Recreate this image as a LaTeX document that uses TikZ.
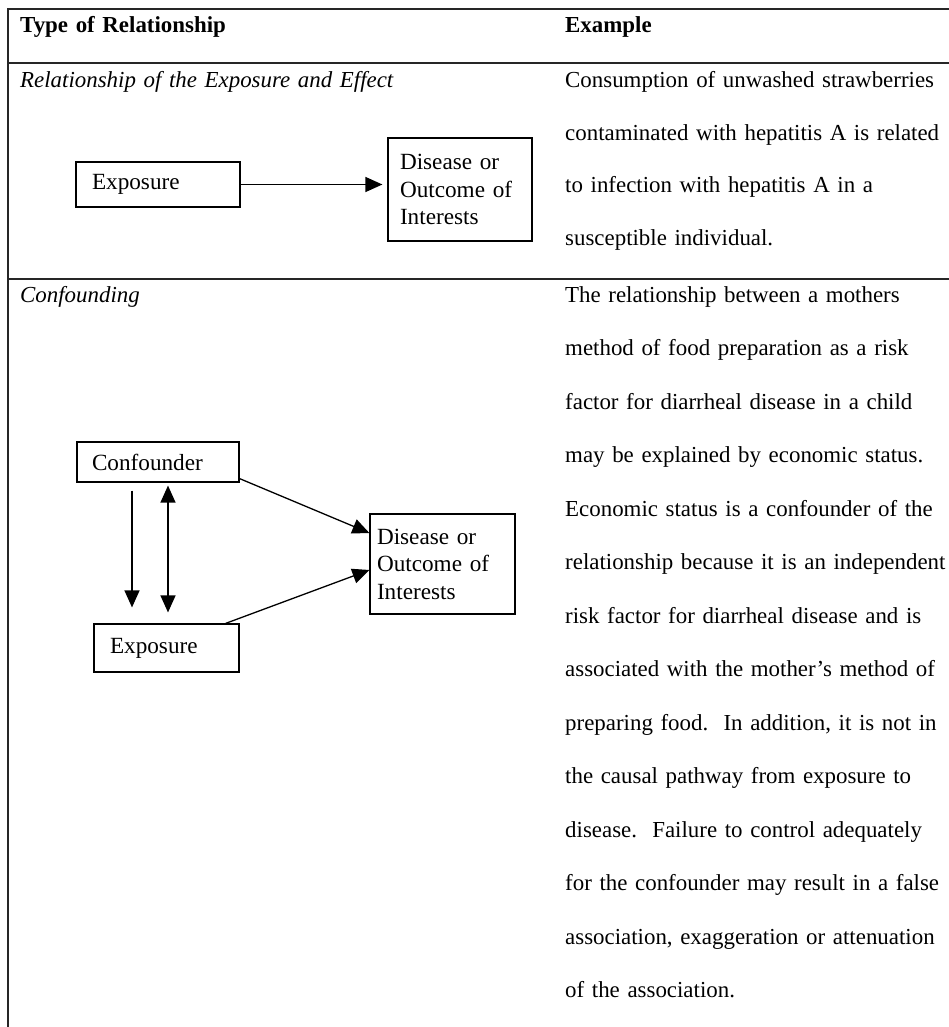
\documentclass[tikz,border=0pt]{standalone}
\usepackage{fontspec}
\setmainfont{Liberation Serif}
\usetikzlibrary{arrows.meta}

\tikzset{
  cell/.style={anchor=base west, inner sep=0pt, align=left, text width=400pt,
    font=\fontsize{22.9}{53.5}\selectfont},
  head/.style={cell, font=\fontsize{22.9}{53.5}\selectfont\bfseries},
  kind/.style={cell, font=\fontsize{22.9}{53.5}\selectfont\itshape},
  box/.style={draw, line width=1.2pt, align=left, inner ysep=0pt,
    font=\fontsize{23.2}{27.5}\selectfont},
  link/.style={line width=1.3pt, -{Triangle[length=17pt,width=15pt]}},
  twoway/.style={line width=1.3pt, {Triangle[length=17pt,width=15pt]}-{Triangle[length=17pt,width=15pt]}},
  rule/.style={line width=1.6pt, black!85}
}

\begin{document}
\begin{tikzpicture}[x=1pt, y=-1pt]
    \useasboundingbox (0,0) rectangle (949,1027);

    % Table rules (open on the right and at the bottom)
    \draw[rule] (8,1027) -- (8,9) -- (949,9);
    \draw[rule] (8,63) -- (949,63);
    \draw[rule] (8,279) -- (949,279);

    % Header row
    \node[head] (hdrtype) at (20,33) {Type of Relationship};
    \node[head] (hdrex) at (565,33) {Example};

    % Row 1: exposure and effect
    \node[kind] (kindone) at (20,88) {Relationship of the Exposure and Effect};
    \node[cell, font=\fontsize{22.9}{52.5}\selectfont] (exone) at (565,88)
        {Consumption of unwashed strawberries\\
         contaminated with hepatitis A is related\\
         to infection with hepatitis A in a\\
         susceptible individual.};

    \node[box, text width=132pt, inner xsep=16pt, minimum height=45pt] (expo1) at (158,184.5) {Exposure};
    \node[box, text width=120pt, inner xsep=12pt, minimum height=103pt] (dis1) at (460,189.5)
        {Disease or\\Outcome of\\Interests};
    \draw[link, shorten >=5pt] (expo1.east) -- (expo1.east -| dis1.west);

    % Row 2: confounding
    \node[kind] (kindtwo) at (20,302) {Confounding};
    \node[cell] (extwo) at (565,302)
        {The relationship between a mothers\\
         method of food preparation as a risk\\
         factor for diarrheal disease in a child\\
         may be explained by economic status.\\
         Economic status is a confounder of the\\
         relationship because it is an independent\\
         risk factor for diarrheal disease and is\\
         associated with the mother's method of\\
         preparing food.\ \ In addition, it is not in\\
         the causal pathway from exposure to\\
         disease.\ \ Failure to control adequately\\
         for the confounder may result in a false\\
         association, exaggeration or attenuation\\
         of the association.};

    \node[box, text width=132pt, inner xsep=15pt, minimum height=40pt] (conf) at (158,462) {Confounder};
    \node[box, text width=113pt, inner xsep=16pt, minimum height=48pt] (expo2) at (166.5,648) {Exposure};
    \node[box, text width=131pt, inner xsep=7pt, minimum height=100pt] (dis2) at (442.5,564)
        {Disease or\\Outcome of\\Interests};

    \draw[link, shorten <=8pt, shorten >=16pt] ([xshift=-26pt]conf.south) -- ([xshift=-26pt]conf.south |- expo2.north);
    \draw[twoway, shorten <=3pt, shorten >=11pt] ([xshift=10pt]conf.south) -- ([xshift=10pt]conf.south |- expo2.north);
    \draw[link] ([yshift=4pt]conf.south east) -- ([yshift=31pt]dis2.west);
    \draw[link] ([xshift=-14pt]expo2.north east) -- ([yshift=-6pt]dis2.west);
\end{tikzpicture}
\end{document}
